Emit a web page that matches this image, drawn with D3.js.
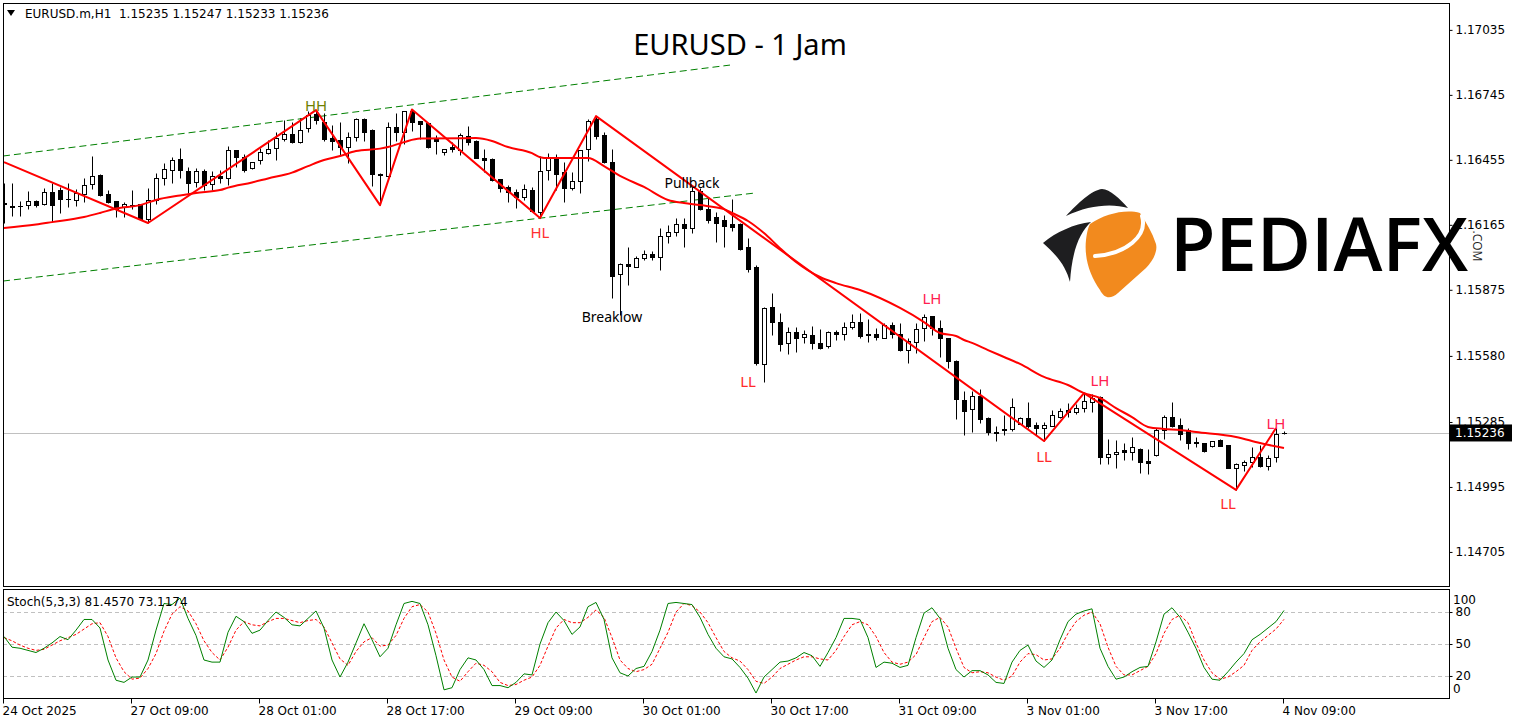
<!DOCTYPE html>
<html>
<head>
<meta charset="utf-8">
<title>EURUSD - 1 Jam</title>
<script src="https://d3js.org/d3.v7.min.js"></script>
<style>
  body { margin: 0; background: #fff; }
  svg text { font-family: "DejaVu Sans", sans-serif; }
</style>
</head>
<body>
<div id="chart"></div>
<script>
// H1 candles, 24 Oct 17:00 .. 4 Nov 09:00
const opens = [
  1.16262,1.16249,1.16249,1.16253,1.16271,1.16258,1.16311,1.16320,1.16280,1.16276,
  1.16302,1.16347,1.16387,1.16302,1.16271,1.16244,1.16253,1.16258,1.16191,1.16276,
  1.16374,1.16410,1.16459,1.16405,1.16356,1.16405,1.16347,1.16383,1.16374,1.16499,
  1.16468,1.16418,1.16454,1.16485,1.16508,1.16548,1.16570,1.16534,1.16597,1.16659,
  1.16624,1.16552,1.16543,1.16512,1.16557,1.16637,1.16588,1.16392,1.16383,1.16601,
  1.16579,1.16673,1.16628,1.16619,1.16552,1.16490,1.16512,1.16499,1.16561,1.16539,
  1.16463,1.16459,1.16369,1.16334,1.16311,1.16289,1.16320,1.16222,1.16410,1.16468,
  1.16401,1.16329,1.16360,1.16503,1.16637,1.16566,1.16445,1.15945,1.15990,1.15977,
  1.16017,1.16035,1.16021,1.16115,1.16133,1.16169,1.16151,1.16316,1.16235,1.16200,
  1.16186,1.16169,1.16169,1.16066,1.15977,1.15544,1.15798,1.15731,1.15638,1.15687,
  1.15664,1.15673,1.15638,1.15624,1.15687,1.15678,1.15709,1.15731,1.15678,1.15678,
  1.15660,1.15718,1.15678,1.15606,1.15642,1.15704,1.15758,1.15704,1.15660,1.15557,
  1.15383,1.15343,1.15401,1.15303,1.15236,1.15254,1.15254,1.15276,1.15303,1.15272,
  1.15258,1.15267,1.15307,1.15339,1.15330,1.15348,1.15374,1.15397,1.15129,1.15142,
  1.15160,1.15151,1.15165,1.15111,1.15138,1.15249,1.15307,1.15272,1.15249,1.15196,
  1.15191,1.15178,1.15205,1.15182,1.15080,1.15093,1.15107,1.15129,1.15089,1.15129,
  1.15235
];
const highs = [
  1.16351,1.16351,1.16271,1.16316,1.16276,1.16329,1.16351,1.16334,1.16351,1.16325,
  1.16374,1.16472,1.16392,1.16320,1.16273,1.16267,1.16320,1.16260,1.16329,1.16396,
  1.16441,1.16468,1.16508,1.16423,1.16418,1.16414,1.16405,1.16410,1.16517,1.16501,
  1.16481,1.16447,1.16508,1.16543,1.16579,1.16633,1.16624,1.16641,1.16673,1.16677,
  1.16664,1.16610,1.16624,1.16579,1.16641,1.16640,1.16592,1.16396,1.16624,1.16664,
  1.16675,1.16680,1.16630,1.16621,1.16566,1.16505,1.16534,1.16575,1.16606,1.16543,
  1.16503,1.16463,1.16371,1.16343,1.16325,1.16347,1.16334,1.16472,1.16485,1.16481,
  1.16445,1.16401,1.16501,1.16637,1.16650,1.16579,1.16503,1.15995,1.16066,1.16026,
  1.16053,1.16048,1.16151,1.16164,1.16195,1.16195,1.16334,1.16329,1.16289,1.16222,
  1.16209,1.16280,1.16171,1.16106,1.15986,1.15796,1.15861,1.15771,1.15709,1.15709,
  1.15696,1.15713,1.15700,1.15689,1.15696,1.15731,1.15767,1.15771,1.15745,1.15704,
  1.15727,1.15731,1.15727,1.15660,1.15727,1.15767,1.15760,1.15740,1.15662,1.15562,
  1.15423,1.15423,1.15432,1.15307,1.15267,1.15316,1.15392,1.15307,1.15374,1.15285,
  1.15285,1.15339,1.15348,1.15370,1.15365,1.15414,1.15410,1.15401,1.15209,1.15205,
  1.15191,1.15218,1.15169,1.15165,1.15258,1.15316,1.15374,1.15303,1.15258,1.15218,
  1.15193,1.15202,1.15209,1.15184,1.15100,1.15116,1.15174,1.15182,1.15138,1.15258,
  1.15247
];
const lows = [
  1.16173,1.16204,1.16204,1.16235,1.16244,1.16255,1.16178,1.16218,1.16244,1.16249,
  1.16267,1.16325,1.16293,1.16262,1.16200,1.16200,1.16235,1.16189,1.16173,1.16258,
  1.16343,1.16351,1.16374,1.16307,1.16334,1.16320,1.16320,1.16351,1.16343,1.16423,
  1.16401,1.16416,1.16436,1.16483,1.16454,1.16539,1.16530,1.16530,1.16579,1.16615,
  1.16539,1.16499,1.16476,1.16441,1.16539,1.16539,1.16338,1.16253,1.16378,1.16539,
  1.16525,1.16583,1.16548,1.16510,1.16481,1.16476,1.16490,1.16476,1.16521,1.16461,
  1.16401,1.16360,1.16311,1.16267,1.16240,1.16276,1.16226,1.16195,1.16365,1.16320,
  1.16267,1.16320,1.16307,1.16450,1.16548,1.16443,1.15838,1.15763,1.15896,1.15975,
  1.16008,1.16008,1.15963,1.16084,1.16115,1.16066,1.16128,1.16231,1.16173,1.16088,
  1.16066,1.16137,1.16053,1.15954,1.15539,1.15464,1.15673,1.15602,1.15589,1.15597,
  1.15638,1.15611,1.15611,1.15615,1.15651,1.15651,1.15700,1.15660,1.15642,1.15651,
  1.15658,1.15660,1.15602,1.15548,1.15593,1.15646,1.15673,1.15575,1.15526,1.15298,
  1.15228,1.15242,1.15281,1.15228,1.15200,1.15228,1.15245,1.15276,1.15258,1.15227,
  1.15200,1.15265,1.15305,1.15307,1.15321,1.15330,1.15330,1.15098,1.15098,1.15080,
  1.15116,1.15116,1.15058,1.15053,1.15133,1.15209,1.15263,1.15205,1.15165,1.15174,
  1.15151,1.15174,1.15176,1.15078,1.14982,1.15066,1.15084,1.15084,1.15071,1.15107,
  1.15233
];
const closes = [
  1.16258,1.16246,1.16247,1.16271,1.16253,1.16311,1.16253,1.16280,1.16281,1.16307,
  1.16343,1.16383,1.16298,1.16267,1.16235,1.16258,1.16255,1.16191,1.16276,1.16374,
  1.16414,1.16454,1.16410,1.16351,1.16405,1.16343,1.16383,1.16374,1.16499,1.16468,
  1.16410,1.16445,1.16490,1.16503,1.16552,1.16570,1.16534,1.16588,1.16655,1.16633,
  1.16548,1.16539,1.16512,1.16557,1.16637,1.16579,1.16392,1.16387,1.16601,1.16579,
  1.16673,1.16624,1.16615,1.16512,1.16539,1.16503,1.16503,1.16566,1.16534,1.16463,
  1.16454,1.16365,1.16329,1.16311,1.16289,1.16325,1.16228,1.16405,1.16468,1.16392,
  1.16329,1.16360,1.16499,1.16628,1.16561,1.16445,1.15937,1.15990,1.15981,1.16017,
  1.16035,1.16021,1.16115,1.16133,1.16169,1.16151,1.16316,1.16235,1.16186,1.16173,
  1.16160,1.16155,1.16057,1.15968,1.15548,1.15794,1.15731,1.15633,1.15687,1.15660,
  1.15678,1.15638,1.15615,1.15687,1.15678,1.15709,1.15731,1.15669,1.15673,1.15664,
  1.15718,1.15678,1.15606,1.15646,1.15700,1.15754,1.15704,1.15660,1.15557,1.15388,
  1.15334,1.15401,1.15298,1.15240,1.15240,1.15249,1.15352,1.15303,1.15267,1.15258,
  1.15272,1.15316,1.15334,1.15330,1.15348,1.15379,1.15392,1.15129,1.15142,1.15151,
  1.15151,1.15174,1.15107,1.15102,1.15249,1.15307,1.15267,1.15231,1.15191,1.15191,
  1.15156,1.15200,1.15178,1.15080,1.15098,1.15107,1.15129,1.15089,1.15124,1.15231,
  1.15236
];

// Stochastic(5,3,3): %K main line and %D signal
const stochK = [
  57,47,46,44,42,46,51,57,54,63, 73,73,65,35,16,14,19,19,35,63,
  88,87,93,74,58,35,33,33,61,76, 71,60,63,72,80,75,68,67,74,81,
  65,35,19,33,51,69,54,38,46,68, 88,90,88,68,39,7,9,26,37,35,
  26,11,11,9,14,22,21,50,70,80, 72,59,66,85,89,73,37,23,20,27,
  29,43,63,88,89,88,87,75,59,46, 38,36,28,18,4,19,26,33,34,37,
  42,39,29,42,56,74,74,73,56,28, 33,32,28,30,56,79,84,74,46,26,
  19,25,25,21,14,13,33,44,49,34, 28,35,54,71,78,81,83,46,29,17,
  19,24,28,29,52,78,84,75,61,46, 28,17,16,24,33,41,54,59,65,71,
  81.457
];
const stochD = [
  56,53,49,46,44,45,49,53,56,59, 64,69,70,57,37,24,17,18,27,41,
  62,78,85,81,69,53,42,35,47,63, 71,68,67,71,74,74,72,70,72,73,
  66,51,36,30,43,52,56,48,49,58, 74,85,87,80,60,35,19,15,24,32,
  30,24,14,11,12,16,19,30,48,65, 73,70,70,75,82,75,56,35,27,24,
  26,31,46,61,80,88,86,80,70,56, 43,37,34,26,15,13,19,27,31,35,
  38,38,36,35,44,57,68,71,68,57, 42,33,31,33,40,56,71,75,66,46,
  28,23,24,23,19,16,20,33,41,40, 35,36,46,60,71,77,80,69,47,29,
  21,21,25,29,41,60,73,77,70,51, 35,23,17,19,24,30,44,52,58,64,
  73.117
];

// red moving average, sampled along the line
const maBars = [0,4,6,10,12,14,17,19,22,24,27,28,31,33,36,38,40,42,44,47,48,50,52,59,61,63,66,67,68,73,75,77,80,83,85,87,90,91,93,95,97,99,102,104,107,112,115,117,119,120,121,123,125,127,130,133,135,137,139,141,143,145,147,149,154,157,160];
const maValues = [1.16151,1.16166,1.16177,1.16200,1.16218,1.16238,1.16253,1.16276,1.16296,1.16307,1.16320,1.16331,1.16354,1.16372,1.16398,1.16427,1.16454,1.16472,1.16494,1.16505,1.16512,1.16534,1.16550,1.16552,1.16539,1.16512,1.16485,1.16467,1.16463,1.16463,1.16427,1.16383,1.16334,1.16276,1.16262,1.16253,1.16235,1.16218,1.16182,1.16128,1.16061,1.15999,1.15932,1.15905,1.15874,1.15794,1.15731,1.15682,1.15669,1.15651,1.15638,1.15606,1.15575,1.15544,1.15486,1.15450,1.15414,1.15392,1.15347,1.15307,1.15263,1.15254,1.15249,1.15240,1.15218,1.15191,1.15169];

// zigzag swing points
const zigBars = [0,18,39,47,51,67,74,130,135,154,159];
const zigPrices = [1.16445,1.16173,1.16677,1.16253,1.16680,1.16195,1.16650,1.15200,1.15414,1.14982,1.15258];

// dashed channel
const chanBars = [-0.125, 90.75];
const chanUpper = [1.16472, 1.16878];
const chanLowerBars = [-0.125, 93.875];
const chanLower = [1.15914, 1.16307];

// annotations
const noteText = ["HH","HL","Breaklow","Pullback","LL","LH","LL","LH","LL","LH"];
const noteBar = [39,67,76,86,93,116,130,137,153,159];
const notePrice = [1.16700,1.16133,1.15758,1.16356,1.15468,1.15838,1.15133,1.15472,1.14924,1.15281];
const noteColor = ["#6f8000","#ff3030","#000","#000","#ff2a2a","#ff2050","#ff2a2a","#ff2050","#ff2a2a","#ff2050"];

// axes
const priceTicks = [1.17035,1.16745,1.16455,1.16165,1.15875,1.15580,1.15285,1.14995,1.14705];
const timeBars = [0,16,32,48,64,80,96,112,128,144,160];
const timeLabels = ["24 Oct 2025","27 Oct 09:00","28 Oct 01:00","28 Oct 17:00","29 Oct 09:00","30 Oct 01:00","30 Oct 17:00","31 Oct 09:00","3 Nov 01:00","3 Nov 17:00","4 Nov 09:00"];
const stochLevels = [80,50,20];

const W = 1521, H = 725;
const L = 3, R = 1449, T = 3, B = 586, ST = 589, SB = 698;

const svg = d3.select("#chart").append("svg")
    .attr("width", W).attr("height", H)
    .style("display", "block");
svg.append("rect").attr("width", W).attr("height", H).attr("fill", "#fff");

const x = d3.scaleLinear().domain([0, 160]).range([4, 1284]);
const y = d3.scaleLinear().domain([1.14553, 1.17155]).range([B, T]);
const ys = d3.scaleLinear().domain([0, 100]).range([697.3, 590.7]);

const px = i => Math.round(x(i)) + 0.5;
const py = v => Math.round(y(v)) + 0.5;

svg.append("clipPath").attr("id", "mainclip")
    .append("rect").attr("x", L).attr("y", T).attr("width", R - L).attr("height", B - T);
svg.append("clipPath").attr("id", "stochclip")
    .append("rect").attr("x", L).attr("y", ST).attr("width", R - L).attr("height", SB - ST);

const main = svg.append("g").attr("clip-path", "url(#mainclip)");

// current bid line
const last = closes[closes.length - 1];
main.append("line")
    .attr("x1", L).attr("x2", R)
    .attr("y1", py(last)).attr("y2", py(last))
    .attr("stroke", "#c0c0c0").attr("stroke-width", 1);

// channel
const chanLine = d3.line().x(d => x(d[0])).y(d => y(d[1]));
main.append("path")
    .attr("d", chanLine(chanBars.map((b, i) => [b, chanUpper[i]])))
    .attr("fill", "none").attr("stroke", "#008000").attr("stroke-dasharray", "7,4");
main.append("path")
    .attr("d", chanLine(chanLowerBars.map((b, i) => [b, chanLower[i]])))
    .attr("fill", "none").attr("stroke", "#008000").attr("stroke-dasharray", "7,4");

// candles
const bars = opens.map((o, i) => ({ i: i, o: o, h: highs[i], l: lows[i], c: closes[i] }));
const cg = main.append("g");
cg.selectAll("line.wick")
    .data(bars)
    .join("line")
    .attr("class", "wick")
    .attr("x1", d => px(d.i)).attr("x2", d => px(d.i))
    .attr("y1", d => py(d.h)).attr("y2", d => py(d.l))
    .attr("stroke", "#000").attr("stroke-width", 1);
cg.selectAll("rect.body")
    .data(bars.filter(d => Math.abs(py(d.o) - py(d.c)) >= 1))
    .join("rect")
    .attr("class", "body")
    .attr("x", d => px(d.i) - 2)
    .attr("y", d => Math.min(py(d.o), py(d.c)))
    .attr("width", 4)
    .attr("height", d => Math.abs(py(d.o) - py(d.c)))
    .attr("fill", d => d.c > d.o ? "#fff" : "#000")
    .attr("stroke", "#000").attr("stroke-width", 1);
cg.selectAll("line.doji")
    .data(bars.filter(d => Math.abs(py(d.o) - py(d.c)) < 1))
    .join("line")
    .attr("class", "doji")
    .attr("x1", d => px(d.i) - 2.5).attr("x2", d => px(d.i) + 2.5)
    .attr("y1", d => py(d.c)).attr("y2", d => py(d.c))
    .attr("stroke", "#000").attr("stroke-width", 1);

// moving average
main.append("path")
    .attr("d", d3.line().curve(d3.curveMonotoneX)
        .x(d => x(d[0])).y(d => y(d[1]))(maBars.map((b, i) => [b, maValues[i]])))
    .attr("fill", "none").attr("stroke", "#ff0000").attr("stroke-width", 2);

// zigzag
main.append("path")
    .attr("d", d3.line().x(d => x(d[0])).y(d => y(d[1]))(zigBars.map((b, i) => [b, zigPrices[i]])))
    .attr("fill", "none").attr("stroke", "#ff0000").attr("stroke-width", 2)
    .attr("stroke-linejoin", "round");

// labels
main.selectAll("text.note")
    .data(noteText)
    .join("text")
    .attr("class", "note")
    .attr("x", (d, i) => x(noteBar[i]))
    .attr("y", (d, i) => y(notePrice[i]))
    .attr("text-anchor", "middle")
    .attr("dominant-baseline", "central")
    .style("font-family", "'Noto Sans', sans-serif")
    .style("font-size", (d, i) => i === 2 || i === 3 ? "14px" : "15px")
    .attr("fill", (d, i) => noteColor[i])
    .text(d => d);

// title
svg.append("text")
    .attr("x", 740).attr("y", 43)
    .attr("text-anchor", "middle").attr("dominant-baseline", "central")
    .style("font-family", "'Noto Sans', sans-serif").style("font-size", "29px")
    .text("EURUSD - 1 Jam");

// header
svg.append("path").attr("d", "M7,10 L15,10 L11,16 Z").attr("fill", "#000");
svg.append("text").attr("x", 25).attr("y", 14)
    .attr("dominant-baseline", "central").style("font-size", "12px")
    .attr("xml:space", "preserve")
    .text("EURUSD.m,H1  1.15235 1.15247 1.15233 1.15236");

// stochastic panel
const sg = svg.append("g").attr("clip-path", "url(#stochclip)");
sg.selectAll("line.lvl")
    .data(stochLevels)
    .join("line")
    .attr("class", "lvl")
    .attr("x1", L).attr("x2", R)
    .attr("y1", d => Math.round(ys(d)) + 0.5).attr("y2", d => Math.round(ys(d)) + 0.5)
    .attr("stroke", "#c0c0c0").attr("stroke-dasharray", "4,3");
sg.append("path")
    .attr("d", d3.line().x((d, i) => x(i)).y(d => ys(d))(stochD))
    .attr("fill", "none").attr("stroke", "#ff0000").attr("stroke-width", 1)
    .attr("stroke-dasharray", "3,2");
sg.append("path")
    .attr("d", d3.line().x((d, i) => x(i)).y(d => ys(d))(stochK))
    .attr("fill", "none").attr("stroke", "#008000").attr("stroke-width", 1);
svg.append("text").attr("x", 7).attr("y", 602)
    .attr("dominant-baseline", "central").style("font-size", "12px")
    .text("Stoch(5,3,3) 81.4570 73.1174");

// frames
svg.append("rect").attr("x", L + 0.5).attr("y", T + 0.5).attr("width", R - L).attr("height", B - T)
    .attr("fill", "none").attr("stroke", "#000");
svg.append("rect").attr("x", L + 0.5).attr("y", ST + 0.5).attr("width", R - L).attr("height", SB - ST)
    .attr("fill", "none").attr("stroke", "#000");

// price axis
const pAxis = svg.append("g").attr("transform", `translate(${R + 0.5},0)`)
    .call(d3.axisRight(y).tickValues(priceTicks).tickFormat(d3.format(".5f")).tickSize(3).tickPadding(3));
pAxis.select(".domain").remove();
pAxis.selectAll("text").style("font-size", "12px").style("font-family", "'DejaVu Sans', sans-serif").attr("fill", "#000");

// last price box
svg.append("rect").attr("x", R + 1).attr("y", y(last) - 8.5).attr("width", 62).attr("height", 17).attr("fill", "#000");
svg.append("text").attr("x", R + 6).attr("y", y(last))
    .attr("dominant-baseline", "central").style("font-size", "12px").attr("fill", "#fff")
    .text(d3.format(".5f")(last));

// stoch axis
const sAxis = svg.append("g").attr("transform", `translate(${R + 0.5},0)`)
    .call(d3.axisRight(ys).tickValues(stochLevels).tickSize(3).tickPadding(3));
sAxis.select(".domain").remove();
sAxis.selectAll("text").style("font-size", "12px").style("font-family", "'DejaVu Sans', sans-serif").attr("fill", "#000");
svg.append("text").attr("x", R + 4).attr("y", ys(100) + 9).attr("dominant-baseline", "central")
    .style("font-size", "12px").text("100");
svg.append("text").attr("x", R + 4).attr("y", ys(0) - 8).attr("dominant-baseline", "central")
    .style("font-size", "12px").text("0");

// time axis
const tAxis = svg.append("g").attr("transform", `translate(0,${SB + 0.5})`)
    .call(d3.axisBottom(x).tickValues(timeBars).tickFormat((d, i) => timeLabels[i]).tickSize(5).tickPadding(3));
tAxis.select(".domain").remove();
tAxis.selectAll(".tick line").attr("transform", "translate(-1,0)");
tAxis.selectAll("text").attr("text-anchor", "start").attr("x", -2)
    .style("font-size", "12px").style("font-family", "'DejaVu Sans', sans-serif").attr("fill", "#000");

// watermark logo
const logo = svg.append("g");
logo.append("path")
    .attr("d", "M1066,216 C1078,203 1092,190 1102,189 C1110,189 1120,199 1128,208 C1112,203 1088,205 1066,216 Z")
    .attr("fill", "#1e1e20");
logo.append("path")
    .attr("d", "M1043,243 C1056,232 1074,224 1091,222 C1080,232 1072,250 1070,282 C1066,268 1060,258 1043,243 Z")
    .attr("fill", "#1e1e20");
logo.append("path")
    .attr("d", "M1090,224 C1105,214 1125,209 1140,213 C1146,222 1152,232 1156,244 C1158,252 1152,262 1146,268 L1118,293 C1110,300 1104,298 1100,290 C1090,276 1084,258 1086,240 C1087,232 1088,228 1090,224 Z")
    .attr("fill", "#f28a1e");
logo.append("path")
    .attr("d", "M1142,216 C1148,236 1126,254 1095,256")
    .attr("fill", "none").attr("stroke", "#fff").attr("stroke-width", 4).attr("stroke-linecap", "round");
logo.append("text").attr("x", 1170).attr("y", 271)
    .style("font-family", "'Open Sans', sans-serif").style("font-weight", "600").style("font-size", "74px")
    .attr("fill", "#000").text("PEDIAFX");
logo.append("text").attr("transform", "translate(1473,246) rotate(90)")
    .attr("text-anchor", "middle")
    .style("font-family", "'Open Sans', sans-serif").style("font-size", "12px")
    .attr("fill", "#222").text(".COM");
</script>
</body>
</html>
